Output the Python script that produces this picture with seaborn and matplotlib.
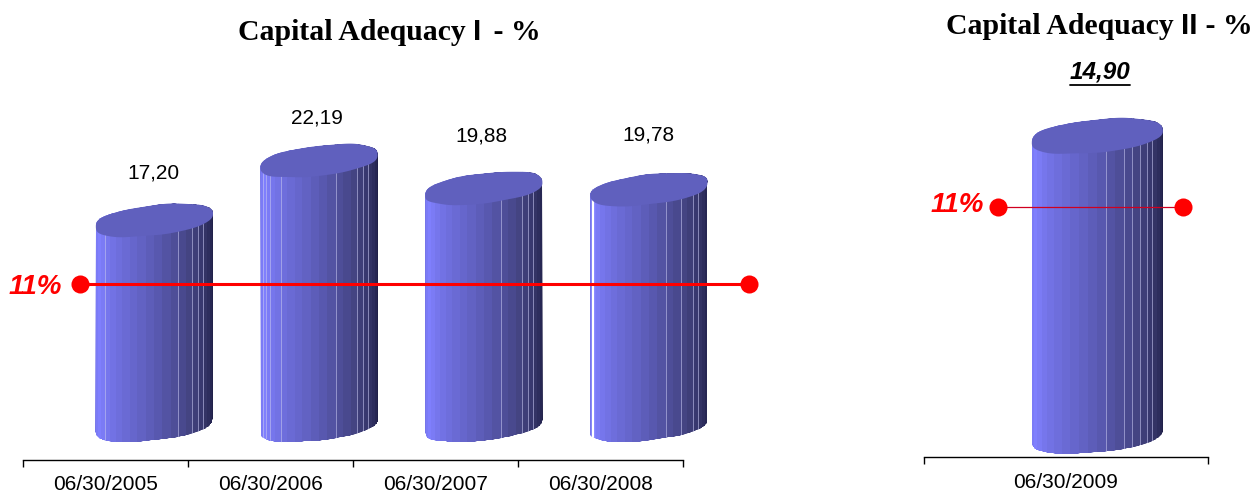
# capital adequacy charts, two panels with fake 3D cylinders
import numpy as np
import seaborn as sns
import matplotlib
matplotlib.use('Agg')
import matplotlib.pyplot as plt
from matplotlib.colors import LinearSegmentedColormap
from matplotlib.patches import Polygon

dates_1 = ['06/30/2005', '06/30/2006', '06/30/2007', '06/30/2008']
values_1 = [17.20, 22.19, 19.88, 19.78]
value_labels_1 = ['17,20', '22,19', '19,88', '19,78']
dates_2 = ['06/30/2009']
values_2 = [14.90]
value_labels_2 = ['14,90']
limit = 11
limit_label = '11%'

W, H = 1252, 492
BLUE = LinearSegmentedColormap.from_list('cyl', [(0, '#7272e4'), (0.1, '#8080ff'), (0.45, '#6060c0'),
                                                 (0.72, '#42427f'), (1, '#1f1f45')])
TOP = '#6060be'
FACETS = 22

sns.set_theme(style='white')
plt.rcParams['font.family'] = ['Liberation Sans', 'DejaVu Sans']

fig = plt.figure(figsize=(W / 100, H / 100), dpi=100)


def make_axes(x0, x1, y_axis, y_top):
    return fig.add_axes([x0 / W, 1 - y_axis / H, (x1 - x0) / W, (y_axis - y_top) / H])


def outline(cx, cy, a, b, s, t, sx, sy, phase):
    # sheared ellipse with a small wobble, the source picture has wavy edges
    wob = 1 + 0.018 * np.sin(5 * t + phase) + 0.01 * np.sin(9 * t + 2 * phase)
    # power below 1 rounds off the pointed ends
    round_sin = np.sign(np.sin(t)) * np.abs(np.sin(t)) ** 0.75
    x = cx + a * np.cos(t) * (1 + 0.3 * (wob - 1)) / sx
    y = cy + (s * np.cos(t) + b * round_sin) * wob / sy
    return np.column_stack([x, y])


def cylinder(ax, bar, shift, sx, sy, s, b, streaks, phase, bright=()):
    left = bar.get_x() + shift
    cx = left + bar.get_width() / 2
    a = bar.get_width() / 2 * sx
    height = bar.get_height()
    bar.set_visible(False)
    low = outline(cx, s / sy, a, b, s, np.linspace(np.pi, 2 * np.pi, 90), sx, sy, phase)
    up = outline(cx, height + s / sy, a, b, s, np.linspace(0, np.pi, 90), sx, sy, phase + 1)
    body = Polygon(np.vstack([low, up]), closed=True, fc='none', ec='none', transform=ax.transData)
    ax.add_patch(body)
    # facets are narrow at the sides and wide in the middle
    edges = cx - a / sx * np.cos(np.linspace(0, np.pi, FACETS + 1))
    shade = (np.arange(FACETS) + 0.5) / FACETS
    ymin, ymax = -2 * b / sy, height + 3 * b / sy
    mesh = ax.pcolormesh(edges, [ymin, ymax], shade[None, :], cmap=BLUE, vmin=0, vmax=1, zorder=2)
    mesh.set_clip_path(body)
    for i in streaks:
        ln = ax.plot([edges[i], edges[i]], [ymin, ymax], color='#c4c4f0', lw=0.7, alpha=0.6, zorder=2.1)[0]
        ln.set_clip_path(body)
    for i in bright:
        ln = ax.plot([edges[i], edges[i]], [ymin, ymax], color='white', lw=1.6, zorder=2.1)[0]
        ln.set_clip_path(body)
    ring = outline(cx, height + s / sy, a, b, s, np.linspace(0, 2 * np.pi, 200), sx, sy, phase + 1)
    ax.add_patch(Polygon(ring, closed=True, fc=TOP, ec='none', zorder=2.2))


def base_axis(ax, n):
    ax.set_xticks(np.arange(n + 1) - 0.5)
    ax.set_xticklabels([])
    ax.tick_params(axis='x', which='major', bottom=True, length=5, width=1, color='black')
    ax.set_yticks([])
    ax.set_xlabel('')
    ax.set_ylabel('')
    for side in ['top', 'left', 'right']:
        ax.spines[side].set_visible(False)
    ax.spines['bottom'].set_bounds(-0.5, n - 0.5)
    ax.spines['bottom'].set_color('black')
    ax.spines['bottom'].set_linewidth(1)
    ax.patch.set_alpha(0)


def title(pieces, x, y):
    # the roman numeral is set in a sans font in the source, so place the pieces one by one
    rend = fig.canvas.get_renderer()
    for text, family, gap in pieces:
        t = fig.text(x / W, 1 - y / H, text, family=family, weight='bold', fontsize=21.4, color='black', va='baseline')
        x += t.get_window_extent(rend).width + gap


# left panel, category 165 px wide, 11.93 px per unit
ax1 = make_axes(23, 790, 460, 60)
sx1, sy1 = 165, 11.93
sns.barplot(x=dates_1, y=values_1, ax=ax1, width=0.71, color=TOP)
ax1.set_xlim(-0.5, -0.5 + 767 / sx1)
ax1.set_ylim(-28 / sy1, 400 / sy1 - 28 / sy1)
base_axis(ax1, 4)
shift1 = 48.5 / sx1
streaks_1 = [[4, 14, 16, 17, 18], [2, 3, 4, 6, 13, 16, 17, 18], [13, 16, 17, 18], [13, 15, 17, 18]]
lifts_1 = [54, 49, 59, 61]
nudges_1 = [-1, -2, -3, -1]
bars_1 = list(ax1.patches)
for i, bar in enumerate(bars_1):
    cylinder(ax1, bar, shift1, sx1, sy1, 6.5, 15, streaks_1[i], i * 1.7, bright=[2] if i == 3 else ())
    ax1.annotate(value_labels_1[i], (bar.get_x() + shift1 + bar.get_width() / 2, values_1[i]),
                 xytext=(nudges_1[i], lifts_1[i]), textcoords='offset pixels', ha='center', va='center',
                 fontsize=15, color='black', annotation_clip=False)
for i, d in enumerate(dates_1):
    ax1.annotate(d, (i, 0), xycoords=ax1.get_xaxis_transform(), xytext=(0, -24), textcoords='offset pixels',
                 ha='center', va='center', fontsize=15, color='black')

line_y1 = limit + 17 / sy1
x_ends1 = [bars_1[0].get_x() + shift1 - 15 / sx1, bars_1[-1].get_x() + bars_1[-1].get_width() + shift1 + 41 / sx1]
sns.lineplot(x=x_ends1, y=[line_y1, line_y1], ax=ax1, color='#ff0000', lw=2.2, marker='o', markersize=13,
             markeredgewidth=0, errorbar=None, zorder=5)
ax1.annotate(limit_label, (x_ends1[0], line_y1), xytext=(-45, -3), textcoords='offset pixels', ha='center',
             va='center', fontsize=20, color='#ff0000', weight='bold', style='italic')

# right panel, one category 284 px wide, 20.13 px per unit
ax2 = make_axes(924, 1208, 457, 60)
sx2, sy2 = 284, 20.13
sns.barplot(x=dates_2, y=values_2, ax=ax2, width=131 / 284, color=TOP)
ax2.set_xlim(-0.5, 0.5)
ax2.set_ylim(-15 / sy2, 397 / sy2 - 15 / sy2)
base_axis(ax2, 1)
shift2 = 31 / sx2
bar = ax2.patches[0]
cylinder(ax2, bar, shift2, sx2, sy2, 6, 16.5, [12, 14, 15, 16, 17, 18], 0.6)
ax2.annotate(dates_2[0], (0, 0), xycoords=ax2.get_xaxis_transform(), xytext=(0, -26), textcoords='offset pixels',
             ha='center', va='center', fontsize=15, color='black')

line_y2 = limit + 13.5 / sy2
x_ends2 = [bar.get_x() + shift2 - 34 / sx2, bar.get_x() + bar.get_width() + shift2 + 20 / sx2]
sns.lineplot(x=x_ends2, y=[line_y2, line_y2], ax=ax2, color='#d00020', lw=0.9, marker='o', markersize=13,
             markerfacecolor='#ff0000', markeredgewidth=0, errorbar=None, zorder=5)
ax2.annotate(limit_label, (x_ends2[0], line_y2), xytext=(-40, 2), textcoords='offset pixels', ha='center',
             va='center', fontsize=20, color='#ff0000', style='italic', weight='bold', annotation_clip=False)
top_label = ax2.annotate(value_labels_2[0], (bar.get_x() + shift2 + bar.get_width() / 2, values_2[0]),
                         xytext=(3, 70), textcoords='offset pixels', ha='center', va='center', fontsize=17.5,
                         color='black', style='italic', weight='bold', annotation_clip=False)
box = top_label.get_window_extent(fig.canvas.get_renderer())
fig.add_artist(plt.Line2D([box.x0 / W, box.x1 / W], [(box.y0 - 1) / H, (box.y0 - 1) / H], color='black', lw=1.3))

title([('Capital Adequacy ', 'Liberation Serif', 0), ('I', 'Liberation Sans', 5),
       (' - %', 'Liberation Serif', 0)], 238, 40)
title([('Capital Adequacy ', 'Liberation Serif', 0), ('II', 'Liberation Sans', 0),
       (' - %', 'Liberation Serif', 0)], 946, 34)

fig.savefig('out.png', dpi=100, facecolor='white')
